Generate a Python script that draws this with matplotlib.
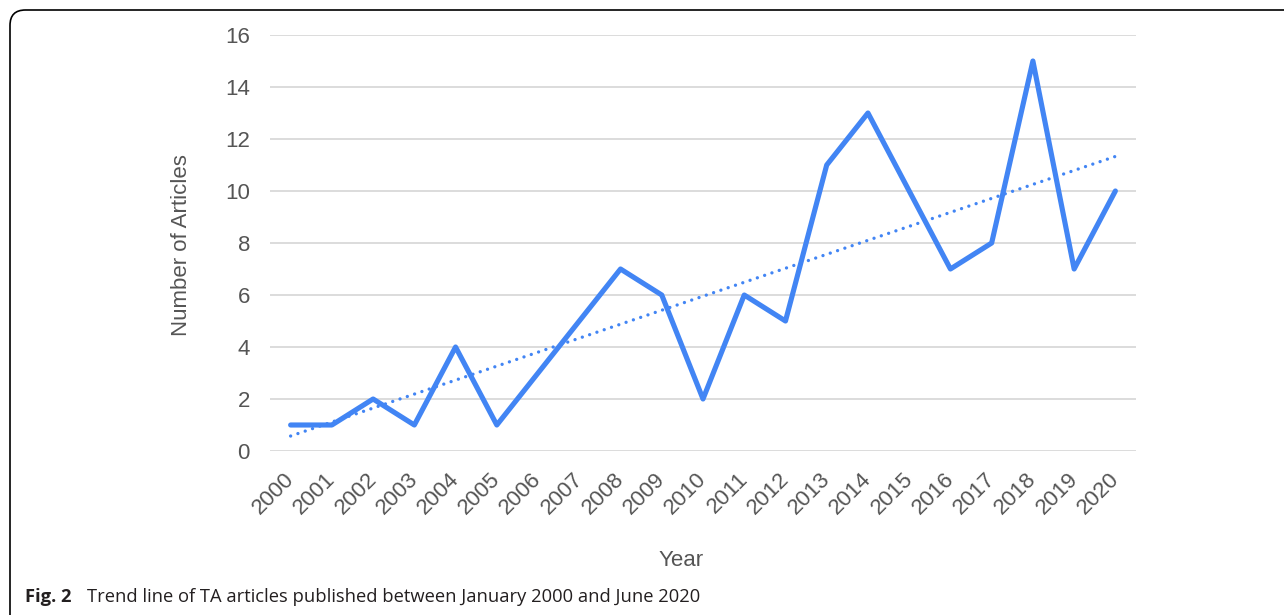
import matplotlib
matplotlib.use("Agg")
import matplotlib.pyplot as plt
import matplotlib.transforms as mtransforms
import numpy as np
from matplotlib.patches import FancyBboxPatch

years = ["2000", "2001", "2002", "2003", "2004", "2005", "2006", "2007", "2008", "2009",
         "2010", "2011", "2012", "2013", "2014", "2015", "2016", "2017", "2018", "2019", "2020"]
articles = [1, 1, 2, 1, 4, 1, 3, 5, 7, 6, 2, 6, 5, 11, 13, 10, 7, 8, 15, 7, 10]
y_ticks = [0, 2, 4, 6, 8, 10, 12, 14, 16]

W, H = 1284, 615
fig = plt.figure(figsize=(W / 100, H / 100), dpi=100)
ax = fig.add_axes([270 / W, 1 - 451 / H, (1136 - 270) / W, (451 - 35) / H])

x = np.arange(len(years))
blue = "#4285F4"
ax.plot(x, articles, color=blue, lw=3.7, solid_capstyle="round", solid_joinstyle="round", zorder=3)

coef = np.polyfit(x, articles, 1)
trend = np.polyval(coef, x)
ax.plot(x, trend, color=blue, lw=2.4, linestyle=(0, (0.01, 2.3)), dash_capstyle="round", zorder=2)

ax.set_xlim(-0.5, len(years) - 0.5)
ax.set_ylim(0, 16)
ax.set_yticks(y_ticks)
ax.set_xticks(x)
ax.set_xticklabels(years, rotation=45, ha="right", rotation_mode="anchor",
                   fontfamily="Liberation Sans", fontsize=16, color="#555555")
ax.set_yticklabels([str(v) for v in y_ticks], fontfamily="Liberation Sans", fontsize=16, color="#555555")
ax.tick_params(axis="both", length=0)
ax.tick_params(axis="y", pad=14.4)
ax.tick_params(axis="x", pad=12.5)
offset = mtransforms.ScaledTranslation(-7 / 100, 0, fig.dpi_scale_trans)
for lbl in ax.get_xticklabels():
    lbl.set_transform(lbl.get_transform() + offset)
ax.grid(axis="y", color="#d9d9d9", lw=1.3)
ax.set_axisbelow(True)
for s in ax.spines.values():
    s.set_visible(False)

fig.text(182 / W, 1 - 245 / H, "Number of Articles", ha="center", va="center", rotation=90,
         fontfamily="Liberation Sans", fontsize=16, color="#555555")
fig.text(681 / W, 1 - 560 / H, "Year", ha="center", va="center",
         fontfamily="Liberation Sans", fontsize=16, color="#555555")

# caption
fig.text(25 / W, 1 - 602 / H, "Fig. 2", ha="left", va="baseline",
         fontfamily="Open Sans", fontweight="bold", fontsize=13.2, color="#231f20")
fig.text(87 / W, 1 - 602 / H, "Trend line of TA articles published between January 2000 and June 2020",
         ha="left", va="baseline", fontfamily="Open Sans", fontsize=13.2, color="#231f20")

# border box
box = FancyBboxPatch((10 / W, -20 / H), (W + 40) / W, (H - 10 + 20) / H,
                     boxstyle="round,pad=0,rounding_size=0.012", transform=fig.transFigure,
                     fill=False, edgecolor="black", lw=1.2, mutation_aspect=W / H)
fig.patches.append(box)

fig.savefig("out.png", dpi=100)
